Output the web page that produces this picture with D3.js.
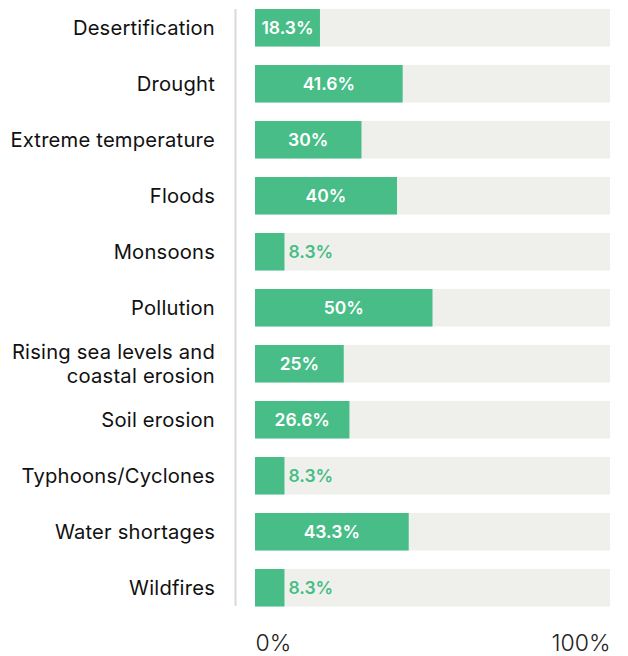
<!DOCTYPE html>
<html>
<head>
<meta charset="utf-8">
<script src="https://cdn.jsdelivr.net/npm/d3@7"></script>
<style>
  html, body { margin: 0; padding: 0; background: #ffffff; }
  svg { display: block; }
</style>
</head>
<body>
<div id="chart"></div>
<script>
// Share of respondents citing each climate-related risk
const categories = [
  "Desertification",
  "Drought",
  "Extreme temperature",
  "Floods",
  "Monsoons",
  "Pollution",
  "Rising sea levels and\ncoastal erosion",
  "Soil erosion",
  "Typhoons/Cyclones",
  "Water shortages",
  "Wildfires"
];
const values = [18.3, 41.6, 30, 40, 8.3, 50, 25, 26.6, 8.3, 43.3, 8.3];
const valueLabels = ["18.3%", "41.6%", "30%", "40%", "8.3%", "50%", "25%", "26.6%", "8.3%", "43.3%", "8.3%"];
const tickValues = [0, 100];
const tickLabels = ["0%", "100%"];

const width = 628, height = 656;
const green = "#48bd87", track = "#eff0ec";

const svg = d3.select("#chart").append("svg")
  .attr("width", width).attr("height", height);

const x = d3.scaleLinear().domain([0, 100]).range([255, 610]);
const y = d3.scaleBand().domain(d3.range(categories.length))
  .range([9, 606.5]).paddingInner(0.33).paddingOuter(0);

// divider between labels and bars
svg.append("line")
  .attr("x1", 235.5).attr("x2", 235.5)
  .attr("y1", 9).attr("y2", 606)
  .attr("stroke", "#d9d9d9").attr("stroke-width", 2);

const rows = svg.append("g").selectAll("g")
  .data(values).join("g")
  .attr("transform", (d, i) => `translate(0,${y(i)})`);

rows.append("rect")
  .attr("x", x(0)).attr("y", 0)
  .attr("width", x(100) - x(0)).attr("height", y.bandwidth())
  .attr("fill", track);

rows.append("rect")
  .attr("x", x(0)).attr("y", 0)
  .attr("width", d => x(d) - x(0)).attr("height", y.bandwidth())
  .attr("fill", green);

rows.append("text")
  .attr("x", d => d < 15 ? x(d) + 4 : (x(0) + x(d)) / 2)
  .attr("y", y.bandwidth() / 2)
  .attr("dy", "0.36em")
  .attr("text-anchor", d => d < 15 ? "start" : "middle")
  .attr("fill", d => d < 15 ? green : "#ffffff")
  .style("font-family", "Inter, sans-serif")
  .style("font-weight", 600)
  .style("font-size", "17.5px")
  .text((d, i) => valueLabels[i]);

// category labels, right-aligned against the divider
const labels = rows.append("text")
  .attr("x", 215)
  .attr("text-anchor", "end")
  .attr("fill", "#111111")
  .style("font-family", "Inter, sans-serif")
  .style("font-weight", 400)
  .style("font-size", "20.2px")
  .style("letter-spacing", "0.2px");

labels.each(function(d, i) {
  const lines = categories[i].split("\n");
  const t = d3.select(this);
  const mid = y.bandwidth() / 2;
  lines.forEach((ln, k) => {
    t.append("tspan")
      .attr("x", 215)
      .attr("y", mid + (k - (lines.length - 1) / 2) * 24)
      .attr("dy", "0.36em")
      .text(ln);
  });
});

// axis end labels
const axis = d3.axisBottom(x).tickValues(tickValues)
  .tickFormat((d, i) => tickLabels[i]).tickSize(0).tickPadding(0);
const ag = svg.append("g").attr("transform", "translate(0,630)").call(axis);
ag.select(".domain").remove();
ag.selectAll("text")
  .attr("y", 21)
  .attr("dy", 0)
  .attr("text-anchor", (d, i) => i === 0 ? "start" : "end")
  .attr("fill", "#222222")
  .style("font-family", "Inter, sans-serif")
  .style("font-weight", 300)
  .style("font-size", "23px");
</script>
</body>
</html>
